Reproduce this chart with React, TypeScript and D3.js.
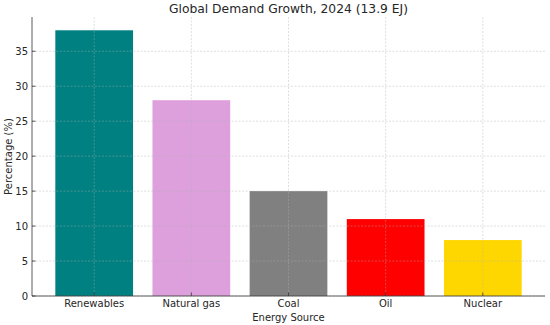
import React from "react";
import * as d3 from "d3";

const categories = ["Renewables", "Natural gas", "Coal", "Oil", "Nuclear"];
const values = [38, 28, 15, 11, 8];
const colors = ["#008080", "#DDA0DD", "#808080", "#FF0000", "#FFD700"];
const yTicks = [0, 5, 10, 15, 20, 25, 30, 35];

const W = 550, H = 325;
const left = 32, right = 545, top = 17, bottom = 296;
const font = "DejaVu Sans, sans-serif";

export default function App() {
  const x = d3.scaleLinear().domain([-0.64, 4.64]).range([left, right]);
  const y = d3.scaleLinear().domain([0, 39.9]).range([bottom, top]);
  const bw = x(0.4) - x(-0.4);
  return (
    <svg width={W} height={H} style={{ position: "absolute", left: 0, top: 0, background: "#fff" }}>
      {categories.map((c, i) => (
        <rect key={c} x={x(i) - bw / 2} y={y(values[i])} width={bw} height={y(0) - y(values[i])} fill={colors[i]} />
      ))}
      {yTicks.map((t) => (
        <line key={"gy" + t} x1={left} x2={right} y1={y(t)} y2={y(t)} stroke="#b0b0b0" strokeOpacity={0.5} strokeWidth={0.8} strokeDasharray="2,1.5" />
      ))}
      {categories.map((c, i) => (
        <line key={"gx" + c} x1={x(i)} x2={x(i)} y1={top} y2={bottom} stroke="#b0b0b0" strokeOpacity={0.5} strokeWidth={0.8} strokeDasharray="2,1.5" />
      ))}
      <line x1={left} x2={left} y1={top} y2={bottom} stroke="#333" strokeWidth={0.8} />
      <line x1={left} x2={right} y1={bottom} y2={bottom} stroke="#333" strokeWidth={0.8} />
      {yTicks.map((t) => (
        <g key={"ty" + t}>
          <line x1={left} x2={left + 3.5} y1={y(t)} y2={y(t)} stroke="#333" strokeWidth={0.8} />
          <text x={left - 4} y={y(t)} dy="0.35em" textAnchor="end" fontFamily={font} fontSize={10} fill="#262626">{t}</text>
        </g>
      ))}
      {categories.map((c, i) => (
        <g key={"tx" + c}>
          <line x1={x(i)} x2={x(i)} y1={bottom} y2={bottom - 3.5} stroke="#333" strokeWidth={0.8} />
          <text x={x(i)} y={bottom + 11} textAnchor="middle" fontFamily={font} fontSize={10} fill="#262626">{c}</text>
        </g>
      ))}
      <text x={(left + right) / 2} y={321} textAnchor="middle" fontFamily={font} fontSize={10} fill="#262626">Energy Source</text>
      <text transform={`translate(12,${(top + bottom) / 2}) rotate(-90)`} textAnchor="middle" fontFamily={font} fontSize={10} fill="#262626">Percentage (%)</text>
      <text x={(left + right) / 2} y={13} textAnchor="middle" fontFamily={font} fontSize={12.3} fill="#262626">Global Demand Growth, 2024 (13.9 EJ)</text>
    </svg>
  );
}
